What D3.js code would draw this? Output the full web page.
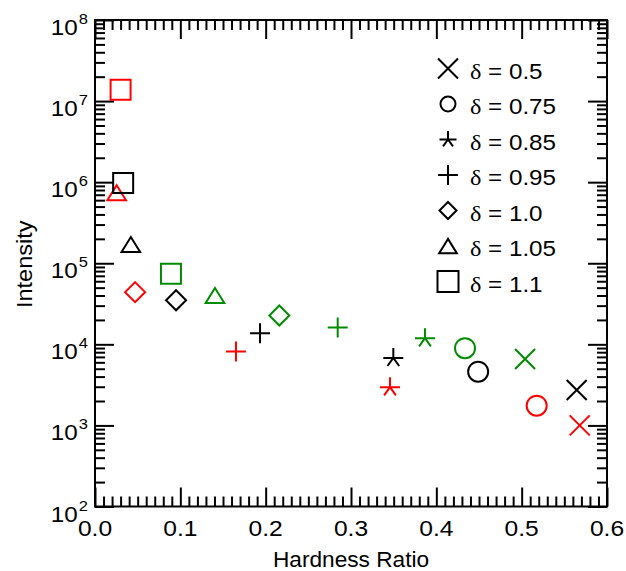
<!DOCTYPE html>
<html>
<head>
<meta charset="utf-8">
<script src="https://cdn.jsdelivr.net/npm/d3@7"></script>
<style>
  html, body { margin: 0; padding: 0; background: #fff; }
  svg text { font-family: "Liberation Sans", Arial, Helvetica, sans-serif; fill: #000; }
</style>
</head>
<body>
<svg id="chart" width="626" height="571"></svg>
<script>
// Model curves: hardness ratio vs intensity for each delta, three runs (red, black, green)
const deltas = ["0.5", "0.75", "0.85", "0.95", "1.0", "1.05", "1.1"];
const symbolKinds = ["cross", "circle", "star", "plus", "diamond", "triangle", "square"];

const hardnessRed   = [0.568, 0.5176, 0.3457, 0.1652, 0.047, 0.0254, 0.030];
const intensityRed  = [1.0e3, 1.75e3, 2.96e3, 8.15e3, 4.4e4, 7.4e5, 1.38e7];
const hardnessBlack  = [0.5645, 0.449, 0.3496, 0.1934, 0.095, 0.042, 0.033];
const intensityBlack = [2.74e3, 4.6e3, 6.8e3, 1.37e4, 3.5e4, 1.7e5, 9.8e5];
const hardnessGreen  = [0.504, 0.4336, 0.3867, 0.2844, 0.216, 0.1406, 0.089];
const intensityGreen = [6.6e3, 8.97e3, 1.19e4, 1.61e4, 2.27e4, 4.0e4, 7.4e4];

const xTicks = [0, 0.1, 0.2, 0.3, 0.4, 0.5, 0.6];
const xTickLabels = ["0.0", "0.1", "0.2", "0.3", "0.4", "0.5", "0.6"];
const yExponents = [2, 3, 4, 5, 6, 7, 8];

const runs = [
  { color: "#ff0000", hx: hardnessRed,   iy: intensityRed },
  { color: "#000000", hx: hardnessBlack, iy: intensityBlack },
  { color: "#008c00", hx: hardnessGreen, iy: intensityGreen }
];

const svg = d3.select("#chart");
const plotLeft = 95, plotRight = 607, plotTop = 20, plotBottom = 506.5;

const x = d3.scaleLinear().domain([0, 0.6]).range([plotLeft, plotRight]);
const y = d3.scaleLog().domain([1e2, 1e8]).range([plotBottom, plotTop]);

// tick positions
const xMinor = d3.range(0, 61).map(i => i / 100).filter((v, i) => i % 10 !== 0);
const yMajor = yExponents.map(e => Math.pow(10, e));
const yMinor = [];
yExponents.slice(0, -1).forEach(e => { for (let k = 2; k <= 9; k++) yMinor.push(k * Math.pow(10, e)); });

const majorLen = 19, minorLen = 10;
const axisG = svg.append("g").attr("class", "axes");

function drawAxis(axisFn, scale, values, len, transform) {
  const g = axisG.append("g").attr("transform", transform)
    .call(axisFn(scale).tickValues(values).tickSize(len).tickSizeOuter(0).tickFormat(""));
  g.select(".domain").remove();
  g.selectAll(".tick line").attr("stroke", "#000").attr("stroke-width", 2);
  return g;
}

// inward ticks on all four sides
drawAxis(d3.axisBottom, x, xTicks, -majorLen, `translate(0,${plotBottom})`);
drawAxis(d3.axisBottom, x, xMinor, -minorLen, `translate(0,${plotBottom})`);
drawAxis(d3.axisTop, x, xTicks, -majorLen, `translate(0,${plotTop})`);
drawAxis(d3.axisTop, x, xMinor, -minorLen, `translate(0,${plotTop})`);
drawAxis(d3.axisLeft, y, yMajor, -majorLen, `translate(${plotLeft},0)`);
drawAxis(d3.axisLeft, y, yMinor, -minorLen, `translate(${plotLeft},0)`);
drawAxis(d3.axisRight, y, yMajor, -majorLen, `translate(${plotRight},0)`);
drawAxis(d3.axisRight, y, yMinor, -minorLen, `translate(${plotRight},0)`);

// frame
axisG.append("rect")
  .attr("x", plotLeft).attr("y", plotTop)
  .attr("width", plotRight - plotLeft).attr("height", plotBottom - plotTop)
  .attr("fill", "none").attr("stroke", "#000").attr("stroke-width", 2);

// x tick labels (slightly widened glyphs)
svg.append("g").selectAll("text").data(xTicks).join("text")
  .attr("transform", d => `translate(${x(d)},${plotBottom + 29}) scale(1.12,1)`)
  .attr("text-anchor", "middle").attr("font-size", 22)
  .text((d, i) => xTickLabels[i]);

// y tick labels as powers of ten, right-aligned just left of the axis
const yl = svg.append("g").selectAll("text").data(yExponents).join("text")
  .attr("transform", d => `translate(88,${y(Math.pow(10, d)) + 15}) scale(1.1,1)`)
  .attr("text-anchor", "end").attr("font-size", 22);
yl.append("tspan").text("10");
yl.append("tspan").attr("font-size", 15).attr("dx", 1).attr("dy", -11).text(d => d);

// axis titles
svg.append("text")
  .attr("transform", `translate(${(plotLeft + plotRight) / 2},566.5) scale(1.03,1)`)
  .attr("text-anchor", "middle").attr("font-size", 22)
  .text("Hardness Ratio");
svg.append("text")
  .attr("transform", `translate(32,${(plotTop + plotBottom) / 2 + 1}) rotate(-90) scale(1.07,1)`)
  .attr("text-anchor", "middle").attr("font-size", 22)
  .text("Intensity");

// marker shapes
function markerPath(kind, s) {
  const p = d3.path();
  switch (kind) {
    case "cross":
      p.moveTo(-s, -s); p.lineTo(s, s); p.moveTo(-s, s); p.lineTo(s, -s); break;
    case "plus":
      p.moveTo(-s, 0); p.lineTo(s, 0); p.moveTo(0, -s); p.lineTo(0, s); break;
    case "circle":
      p.moveTo(s, 0); p.arc(0, 0, s, 0, 2 * Math.PI); break;
    case "square":
      p.rect(-s, -s, 2 * s, 2 * s); break;
    case "diamond":
      p.moveTo(0, -s); p.lineTo(s, 0); p.lineTo(0, s); p.lineTo(-s, 0); p.closePath(); break;
    case "triangle":
      p.moveTo(0, -0.75 * s); p.lineTo(0.93 * s, 0.75 * s); p.lineTo(-0.93 * s, 0.75 * s); p.closePath(); break;
    case "star": {
      p.moveTo(0, 0); p.lineTo(0, -s);
      p.moveTo(-s, 0); p.lineTo(s, 0);
      const a = 36 * Math.PI / 180;
      p.moveTo(0, 0); p.lineTo(-s * Math.sin(a), s * Math.cos(a));
      p.moveTo(0, 0); p.lineTo(s * Math.sin(a), s * Math.cos(a));
      break;
    }
  }
  return p.toString();
}

// data markers
const pts = [];
runs.forEach(r => r.hx.forEach((h, i) => pts.push({ h, v: r.iy[i], kind: symbolKinds[i], color: r.color })));
svg.append("g").selectAll("path").data(pts).join("path")
  .attr("transform", d => `translate(${x(d.h)},${y(d.v)})`)
  .attr("d", d => markerPath(d.kind, 10))
  .attr("fill", "none").attr("stroke", d => d.color).attr("stroke-width", 2);

// legend
const legendSizes = { cross: 10, circle: 7.5, star: 8.5, plus: 10, diamond: 8.5, triangle: 9.5, square: 10.5 };
const lg = svg.append("g").selectAll("g").data(deltas).join("g")
  .attr("transform", (d, i) => `translate(448,${68.5 + i * 35.5})`);
lg.append("path")
  .attr("d", (d, i) => markerPath(symbolKinds[i], legendSizes[symbolKinds[i]]))
  .attr("fill", "none").attr("stroke", "#000").attr("stroke-width", 2);
const lt = lg.append("text").attr("transform", "translate(22,10) scale(1.1,1)").attr("font-size", 22);
lt.append("tspan").attr("font-family", "'Liberation Serif', 'DejaVu Serif', serif").text("δ");
lt.append("tspan").text(d => " = " + d);
</script>
</body>
</html>
